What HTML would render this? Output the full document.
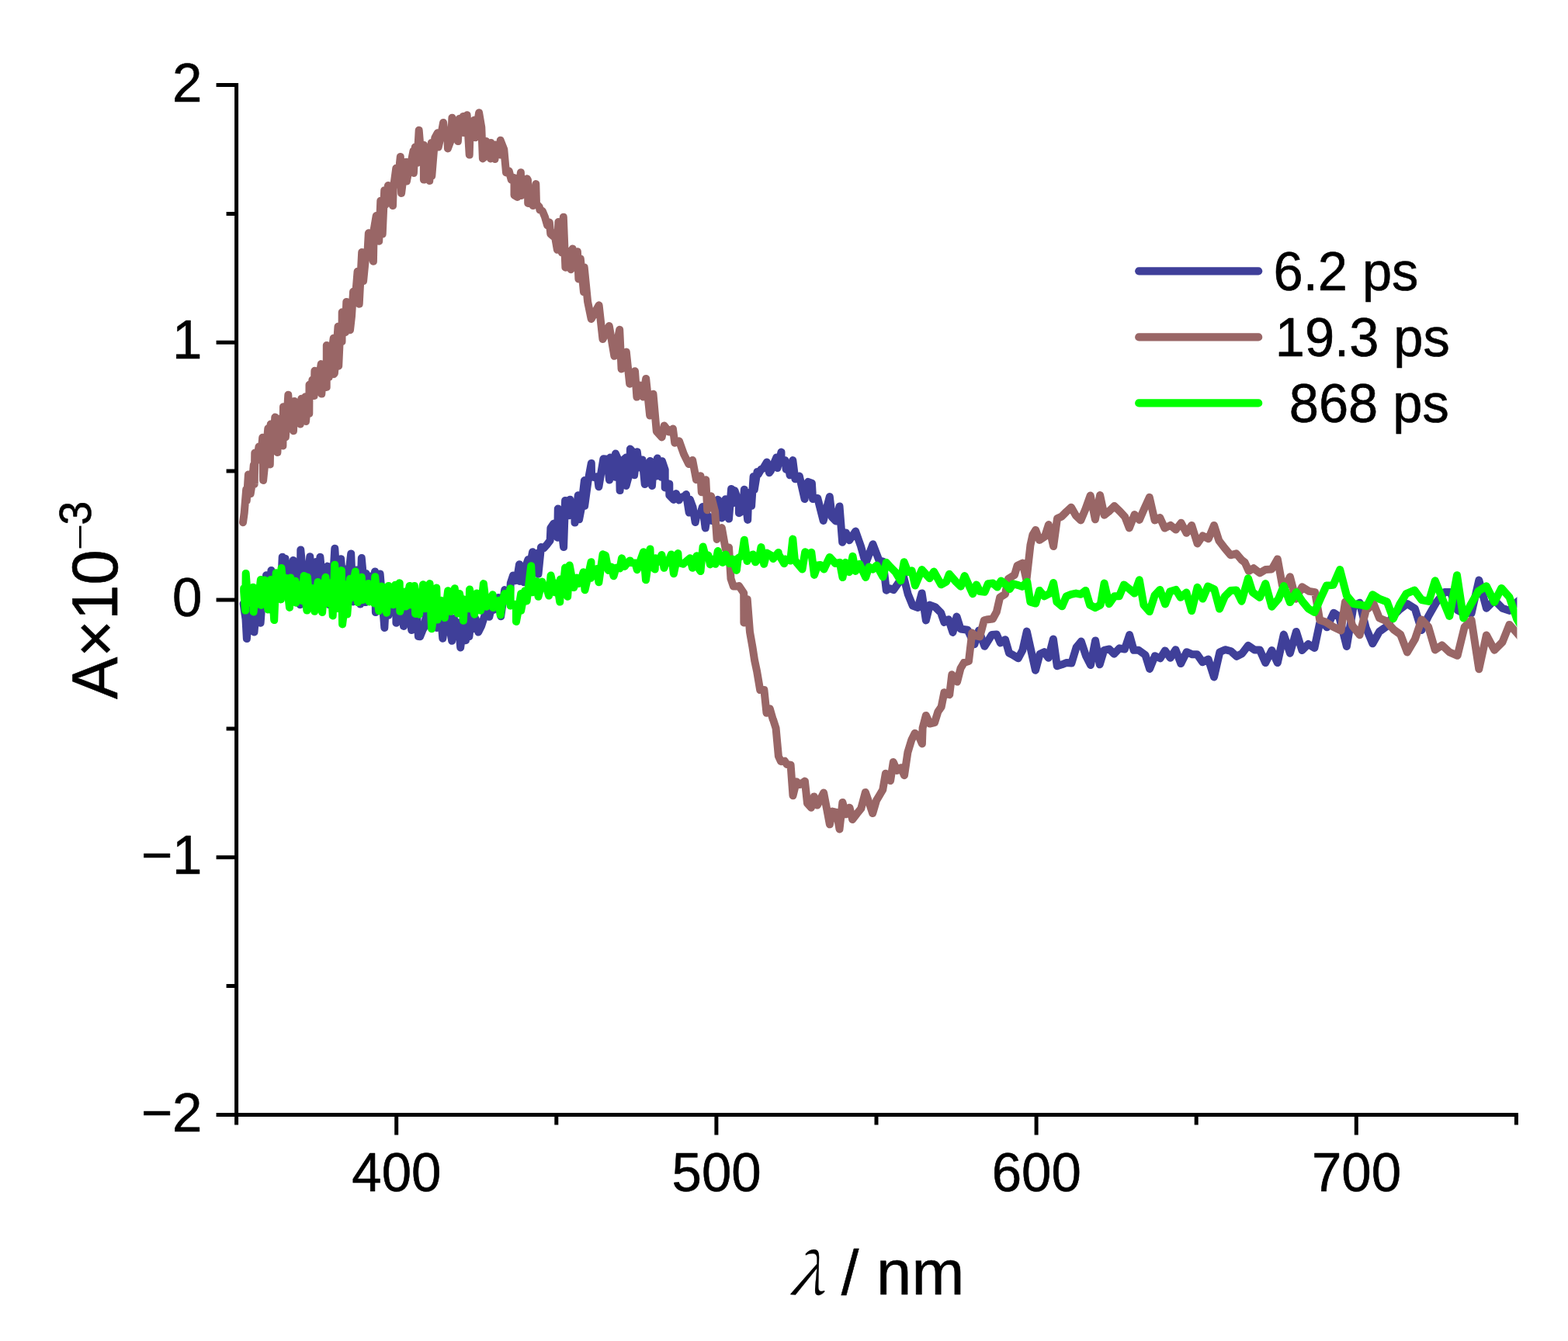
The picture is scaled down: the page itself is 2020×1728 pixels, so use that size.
<!DOCTYPE html>
<html lang="en">
<head>
<meta charset="utf-8">
<title>Transient absorption spectra</title>
<style>
html,body{margin:0;padding:0;background:#fff;}
body{width:2020px;height:1728px;overflow:hidden;}
svg{display:block;}
text{font-family:"Liberation Sans",sans-serif;fill:#000;stroke:#000;stroke-width:0.6px;stroke-linejoin:round;}
.tick{font-size:69px;}
.lab{font-size:81.5px;}
.lam{font-family:"Noto Serif CJK SC","Liberation Serif",serif;font-style:italic;font-size:72px;stroke-width:0.3px;}
.sm{font-family:"Liberation Serif",serif;font-size:56px;stroke:none;}
.s3{font-size:55px;}
.leg{font-size:68.6px;}
.ax{stroke:#000;stroke-width:5;fill:none;stroke-linecap:butt;}
.cv{fill:none;stroke-width:10;stroke-linejoin:round;stroke-linecap:round;}
</style>
</head>
<body>
<svg width="2020" height="1728" viewBox="0 0 2020 1728" role="img" aria-label="Transient absorption spectra at 6.2 ps, 19.3 ps and 868 ps">
<rect width="2020" height="1728" fill="#fff"/>
<defs><clipPath id="plotclip"><rect x="304.6" y="109.5" width="1649.8" height="1327.0"/></clipPath></defs>
<g clip-path="url(#plotclip)">
<polyline class="cv" stroke="#3f3f99" points="313.6,777.8 316.5,797.7 317.9,823.1 319.8,799.0 321.7,789.1 323.7,801.7 325.6,783.7 327.5,814.4 329.6,789.2 331.6,778.2 333.6,779.3 335.6,802.7 338.1,768.8 340.5,776.4 343.0,741.3 344.8,764.4 346.6,761.8 348.4,785.4 349.4,735.1 351.4,760.7 353.5,746.7 355.5,765.5 357.6,752.4 359.6,751.1 361.7,765.3 363.7,717.8 365.6,752.9 367.5,719.7 369.5,748.1 371.5,758.4 373.6,740.5 375.6,748.9 377.7,722.1 379.9,755.5 382.2,734.7 384.4,746.5 386.6,779.2 387.3,708.5 389.7,734.0 392.1,743.2 394.5,751.6 396.9,740.7 399.3,717.2 401.9,760.0 404.5,745.7 407.1,724.0 409.7,757.3 412.4,717.8 414.8,744.8 417.2,758.7 419.5,747.7 421.9,729.6 423.8,779.2 426.3,750.7 428.8,748.5 431.3,706.7 433.9,747.4 436.6,746.8 439.2,720.3 441.4,750.3 443.6,733.3 446.5,753.5 449.3,739.2 452.2,713.5 454.7,775.4 457.0,747.8 459.3,734.5 461.7,757.1 464.0,778.5 465.8,719.1 468.3,746.8 470.8,776.1 471.4,738.9 474.2,767.0 477.0,742.6 480.0,756.9 483.0,736.4 483.9,789.1 486.8,777.8 489.6,739.5 492.5,773.2 495.3,808.9 497.9,761.8 500.5,792.8 503.0,773.6 505.4,776.3 507.9,773.4 510.4,757.4 510.4,802.7 512.8,790.6 515.2,776.1 517.6,781.0 520.0,807.0 522.5,789.7 525.1,783.8 527.6,786.7 530.2,812.0 532.7,777.0 535.1,761.1 538.9,820.0 541.2,820.2 545.7,808.9 546.2,809.1 549.3,791.9 552.5,773.7 555.0,793.0 557.5,791.5 560.1,792.1 562.6,809.1 565.2,796.3 567.7,790.5 570.3,822.7 573.7,800.6 577.1,781.1 579.6,810.5 582.2,825.8 584.9,796.9 587.7,811.1 590.5,802.3 593.2,834.4 596.6,806.7 600.0,825.2 602.5,783.6 604.4,820.2 606.8,798.4 609.3,810.3 612.7,797.3 616.2,814.6 620.2,806.6 624.0,794.5 627.7,781.1 630.3,794.8 633.2,782.4 636.1,785.9 639.1,779.7 642.0,770.0 645.2,794.2 647.7,777.2 650.2,760.1 653.3,769.0 656.4,774.4 657.8,751.4 661.0,741.5 663.6,748.3 666.3,744.3 669.0,727.3 669.3,749.0 672.0,739.8 674.7,750.3 676.3,732.2 680.3,721.1 683.2,726.0 686.1,711.2 688.8,729.1 691.6,713.1 693.5,739.8 697.0,705.0 700.5,706.3 705.0,701.3 708.7,696.4 709.4,680.3 713.3,674.7 718.2,692.7 718.8,655.6 722.5,675.7 726.1,705.1 728.1,645.0 733.1,664.3 734.3,643.8 737.3,657.4 740.3,651.2 740.5,673.6 744.8,638.2 746.1,669.3 748.5,656.9 752.9,619.1 753.2,651.9 757.5,620.0 761.8,597.0 762.1,613.6 765.8,615.3 769.6,614.1 771.4,627.2 774.4,609.1 777.4,591.2 782.2,591.8 785.0,618.5 786.2,589.4 792.4,614.8 793.0,584.6 797.9,595.5 798.6,632.1 801.7,593.7 806.6,589.4 806.6,625.9 811.6,607.4 811.9,578.6 817.1,584.4 817.1,612.3 820.8,582.2 823.3,602.4 827.6,592.4 830.7,624.1 832.0,598.0 835.7,621.0 837.5,594.1 840.0,625.9 841.9,596.8 845.6,613.6 846.8,590.6 851.8,614.8 853.0,594.3 856.7,605.4 856.7,628.4 862.3,623.4 862.3,638.3 867.9,643.9 871.0,636.1 874.7,644.5 876.5,641.3 881.5,639.6 884.0,637.0 887.7,660.6 888.9,643.8 892.6,653.7 895.7,673.0 897.6,663.6 901.9,663.1 905.0,653.1 908.7,680.4 911.2,663.6 914.9,670.5 919.9,671.7 924.8,643.8 928.5,647.5 929.8,667.4 934.1,664.3 934.7,643.2 939.0,668.6 942.1,629.9 944.6,648.2 946.5,632.1 952.0,648.8 952.0,661.2 957.0,658.1 958.8,630.8 963.2,669.9 964.4,635.1 968.1,651.9 970.6,614.1 971.8,630.9 975.5,607.9 976.8,611.1 980.5,604.8 983.0,603.7 987.9,595.5 991.0,609.2 992.9,606.7 1000.3,589.4 1001.5,603.0 1006.5,582.5 1006.5,595.0 1011.4,593.1 1012.7,604.9 1015.8,601.7 1017.6,612.3 1021.3,593.1 1024.4,617.3 1024.9,617.1 1029.8,613.4 1036.6,643.1 1040.9,620.8 1045.9,622.7 1047.1,643.1 1053.3,641.9 1060.7,671.0 1068.8,640.0 1071.9,666.6 1076.8,671.6 1081.5,652.4 1085.2,698.8 1089.8,686.4 1094.2,696.3 1102.2,684.6 1109.0,703.8 1115.2,726.0 1124.5,701.3 1132.5,722.3 1137.5,723.6 1141.8,760.7 1146.1,758.2 1151.1,760.1 1158.5,749.6 1163.5,740.9 1169.7,765.6 1175.8,780.5 1182.6,783.0 1187.6,764.4 1192.9,799.4 1197.8,779.6 1204.7,782.1 1212.1,789.5 1216.4,801.9 1222.0,798.2 1227.5,814.9 1232.5,794.5 1237.5,810.5 1246.7,811.8 1255.4,830.3 1261.0,812.4 1268.4,832.8 1277.7,818.0 1283.9,817.4 1288.8,828.5 1295.0,824.2 1300.0,841.5 1304.9,844.0 1311.7,848.3 1317.3,837.8 1322.8,813.6 1334.0,863.8 1339.6,842.7 1345.1,840.2 1350.7,847.7 1356.9,823.5 1361.8,858.2 1368.0,856.3 1374.2,853.9 1380.4,854.5 1386.6,834.1 1392.8,826.6 1399.0,845.2 1405.0,857.0 1411.1,825.4 1416.7,856.3 1422.3,837.8 1429.1,836.5 1435.3,842.7 1442.1,835.3 1448.9,836.5 1455.1,818.0 1460.6,837.8 1466.8,837.8 1475.5,844.0 1481.1,861.9 1487.9,845.2 1494.7,848.3 1500.9,838.4 1507.7,847.7 1514.5,837.2 1521.3,855.1 1528.7,840.2 1536.1,843.3 1542.3,843.3 1549.1,853.2 1556.6,849.5 1564.0,872.4 1571.4,840.2 1578.2,837.2 1585.6,839.0 1593.1,845.8 1600.0,842.3 1608.0,831.8 1616.1,837.4 1622.9,837.4 1630.3,854.1 1638.4,838.0 1645.8,854.1 1653.8,817.6 1661.9,841.7 1669.9,813.9 1677.4,838.0 1685.4,830.0 1693.4,834.9 1700.2,802.7 1704.0,801.5 1709.5,808.3 1718.2,789.7 1725.0,794.1 1734.9,833.0 1743.6,781.7 1751.6,776.7 1759.7,808.9 1768.3,829.3 1777.0,813.9 1785.6,807.7 1794.3,794.1 1803.0,785.4 1812.9,778.0 1822.8,784.2 1831.4,812.0 1840.1,794.1 1850.0,776.7 1860.9,763.1 1868.6,763.1 1877.6,786.2 1885.3,790.1 1895.6,790.1 1905.3,747.6 1914.9,783.7 1925.2,773.4 1935.5,783.7 1944.5,786.9 1954.2,775.9 1958.7,772.1"/>
<polyline class="cv" stroke="#996666" points="313.0,673.3 314.7,661.0 317.2,630.6 317.8,645.0 319.9,611.5 322.7,636.3 324.8,623.0 326.8,599.1 327.7,623.9 328.3,583.6 330.9,593.2 333.5,575.6 335.8,593.1 338.2,563.8 339.1,619.0 341.2,598.6 343.3,573.1 345.3,552.1 347.8,598.5 348.7,546.5 350.6,568.2 352.4,572.3 354.3,537.6 357.4,583.1 359.5,539.7 361.9,549.4 364.4,574.4 365.0,524.2 367.9,563.3 371.3,508.7 373.5,544.0 375.8,528.3 378.0,555.2 379.2,517.0 381.7,541.2 384.3,527.5 386.8,546.6 388.3,513.7 390.9,532.1 393.4,511.2 394.0,542.9 396.1,521.3 398.3,532.9 398.5,495.7 400.4,507.7 402.4,489.5 404.6,510.1 405.4,477.8 408.2,498.9 410.9,489.0 413.7,469.1 414.3,507.6 416.4,480.8 418.6,486.4 420.7,498.9 420.8,445.0 423.8,485.9 426.8,458.5 429.7,435.7 430.1,482.2 430.9,480.9 433.2,453.7 435.5,420.8 436.2,471.7 438.3,425.7 440.5,440.1 440.7,402.3 442.8,422.2 444.8,428.3 446.3,388.9 448.7,403.2 451.0,425.3 453.0,407.4 455.1,375.7 457.8,383.6 460.6,349.7 462.7,391.8 466.2,324.9 468.1,362.1 470.7,335.6 473.3,328.1 474.8,300.8 474.9,300.2 477.9,313.4 480.9,336.8 481.7,295.9 484.7,278.0 488.2,310.8 490.3,258.8 492.7,301.5 495.2,245.2 496.5,263.8 500.0,239.0 503.0,256.1 506.0,265.1 506.7,243.3 510.3,216.7 513.0,229.4 515.8,201.9 517.1,249.0 520.1,224.9 523.0,208.7 523.9,233.5 526.8,217.5 529.6,208.9 532.5,194.4 532.9,223.0 534.8,189.5 537.3,209.9 539.7,167.8 542.8,205.2 545.9,187.0 545.9,231.6 550.2,191.3 553.3,232.9 555.8,183.9 556.3,226.7 560.3,177.7 563.7,171.3 564.7,189.6 567.9,175.6 571.1,157.9 573.6,177.0 576.2,169.1 576.9,191.4 581.2,179.7 582.4,151.7 584.9,173.2 587.4,163.5 589.9,182.1 591.7,153.0 594.2,162.2 596.7,149.9 596.7,171.0 599.1,164.6 601.6,148.3 604.7,199.5 605.9,157.9 608.4,165.8 610.9,154.8 612.3,177.2 617.1,145.3 620.3,164.1 621.9,204.4 626.0,200.7 626.2,182.1 629.1,194.7 631.9,204.4 632.5,183.9 635.0,190.7 637.5,205.0 638.1,186.4 641.3,196.5 644.5,199.5 644.7,180.8 649.3,192.6 652.0,222.4 655.7,220.4 658.7,231.6 662.5,229.1 662.5,251.4 666.6,253.9 670.9,222.3 671.5,252.1 676.5,240.3 679.0,230.3 680.0,232.0 680.2,262.0 684.3,245.8 685.0,249.4 686.0,264.3 686.8,265.1 690.1,238.2 690.3,237.1 691.0,262.6 694.8,266.7 695.4,270.6 696.4,270.5 698.9,272.2 702.0,279.7 705.1,290.3 707.8,286.5 709.3,301.4 712.8,304.5 714.1,300.1 717.9,321.8 719.4,285.9 723.8,325.5 725.8,279.7 728.4,344.7 731.4,323.6 735.5,347.2 737.6,320.5 741.2,344.1 743.9,324.2 745.4,359.6 747.8,333.5 752.0,376.3 752.7,344.6 757.1,388.7 761.7,411.1 771.6,393.3 776.5,437.1 784.8,420.0 791.4,458.8 798.2,424.8 800.6,475.5 806.8,453.5 811.2,494.7 818.0,478.2 820.4,511.6 824.8,496.5 828.5,511.4 832.2,487.9 837.2,535.5 841.5,507.7 845.8,555.9 852.6,563.4 855.7,548.5 861.9,556.6 866.9,552.5 869.3,570.8 874.9,568.3 881.1,585.6 887.3,598.0 892.2,593.1 897.0,618.2 902.5,613.2 903.8,634.3 909.3,618.2 911.2,657.2 916.1,639.2 921.1,659.0 923.6,694.9 929.8,680.0 934.7,707.3 939.0,705.4 941.5,745.6 944.8,755.5 951.9,755.5 952.0,754.9 958.2,764.2 958.4,802.5 962.7,772.2 966.0,814.3 969.5,834.1 972.2,851.4 975.1,865.0 979.2,889.1 984.4,889.1 987.5,918.8 991.8,913.3 995.7,926.9 996.1,927.4 999.6,938.6 1001.3,957.1 1002.9,974.5 1006.0,981.3 1010.9,980.6 1013.7,985.0 1018.6,985.6 1021.5,1025.2 1026.0,1007.3 1030.7,1011.0 1036.9,1006.6 1040.0,1035.1 1045.0,1040.7 1048.7,1026.4 1053.0,1037.6 1061.1,1021.5 1065.4,1043.8 1068.9,1062.3 1072.2,1045.6 1077.8,1046.9 1081.5,1068.5 1085.4,1033.9 1089.5,1049.3 1094.5,1040.7 1098.2,1056.1 1103.8,1048.7 1109.3,1041.9 1114.9,1020.9 1119.9,1035.1 1124.2,1048.1 1129.1,1031.4 1133.5,1024.0 1137.2,1017.8 1140.9,996.7 1147.1,1006.0 1150.8,981.9 1155.7,993.0 1160.7,989.3 1165.0,999.2 1169.4,969.5 1174.3,953.4 1178.6,944.8 1184.2,949.7 1187.9,958.4 1188.6,938.0 1192.9,921.9 1197.8,932.5 1204.0,931.2 1208.4,917.0 1212.7,910.8 1216.4,892.2 1223.2,895.3 1226.3,869.3 1233.1,878.6 1237.5,861.3 1241.8,853.9 1248.0,852.0 1252.3,815.5 1256.6,819.2 1262.2,820.4 1267.8,799.4 1272.7,798.2 1278.9,797.5 1283.9,788.3 1288.2,769.7 1295.0,765.4 1298.9,746.0 1304.5,742.3 1306.9,741.1 1310.6,728.7 1317.5,725.6 1322.4,747.3 1327.4,702.7 1330.4,689.1 1334.2,682.9 1339.1,695.9 1345.9,691.6 1350.9,676.1 1357.1,704.0 1362.0,668.1 1367.6,665.6 1373.8,659.4 1380.0,653.8 1386.1,664.4 1392.3,670.5 1398.5,655.7 1404.7,638.4 1410.9,669.3 1417.1,638.1 1422.6,663.7 1428.2,659.4 1435.6,652.0 1443.1,659.4 1449.3,666.2 1454.8,680.4 1461.6,663.1 1467.8,669.9 1474.0,655.7 1480.8,640.8 1487.6,670.5 1494.3,667.0 1500.5,680.6 1507.9,676.9 1514.8,682.5 1521.6,673.8 1528.4,686.8 1535.2,676.9 1542.6,700.4 1549.4,690.5 1556.8,694.3 1564.0,676.9 1570.4,696.7 1577.9,706.6 1585.3,715.3 1592.7,713.4 1599.5,721.5 1603.7,724.8 1608.7,735.9 1614.9,732.2 1622.9,738.4 1630.3,734.0 1638.4,733.4 1645.8,720.4 1652.0,754.5 1655.7,755.7 1661.9,743.3 1669.3,771.8 1677.4,756.3 1686.6,761.9 1694.1,763.1 1700.2,799.0 1707.7,801.5 1717.6,807.7 1727.5,812.6 1733.0,775.5 1742.3,806.4 1751.6,818.2 1759.7,786.6 1769.6,778.0 1777.0,796.5 1785.6,800.2 1795.5,811.4 1804.2,817.6 1812.9,840.5 1822.8,823.8 1831.4,798.4 1840.1,807.7 1848.8,837.4 1857.7,831.3 1867.3,840.3 1877.6,844.8 1886.6,808.1 1895.6,799.1 1905.3,862.2 1914.9,818.4 1925.2,837.7 1935.5,827.4 1944.5,804.9 1954.2,815.8 1958.7,821.0"/>
<polyline class="cv" stroke="#00ff00" points="314.2,758.1 314.2,762.4 316.1,786.6 316.7,738.9 319.0,769.9 321.3,765.6 323.7,776.2 326.0,756.8 326.6,788.4 328.9,765.3 331.2,772.0 333.6,766.1 335.9,746.9 335.9,779.8 338.4,764.9 340.8,747.5 343.0,759.4 345.2,785.4 347.0,773.1 348.9,746.9 351.1,766.8 353.2,799.0 355.7,738.2 357.8,765.0 359.8,758.1 361.9,772.4 362.5,732.1 364.6,752.5 366.6,761.4 368.7,745.0 370.9,763.9 373.0,782.9 374.3,744.4 376.3,761.3 378.4,764.1 380.4,748.8 381.1,776.7 383.1,757.6 385.1,763.3 387.1,753.6 389.1,774.2 391.6,742.0 393.4,767.5 395.3,786.6 395.9,743.8 398.0,766.8 400.0,772.6 402.1,758.0 405.2,787.8 407.4,770.3 409.5,750.0 412.3,769.5 415.1,789.1 417.3,762.3 419.4,743.8 421.9,777.3 424.2,766.2 426.4,750.9 428.7,793.4 431.2,727.7 434.3,784.1 437.1,760.9 439.9,735.1 441.1,804.5 443.6,784.1 446.0,753.1 447.3,791.5 451.0,745.7 452.2,770.5 455.0,751.6 457.8,736.4 460.9,776.1 463.4,758.6 465.8,743.8 467.1,773.0 469.6,760.9 472.0,761.4 474.5,751.9 475.7,775.4 478.8,761.6 481.9,777.3 483.2,743.2 485.6,766.5 488.1,787.2 491.8,755.6 494.9,766.9 498.0,789.7 500.5,754.9 503.6,769.5 506.7,779.2 509.2,753.7 511.9,761.5 514.7,751.2 515.3,787.8 518.4,773.9 521.5,762.4 522.8,781.6 525.2,766.1 527.7,754.9 529.0,779.2 531.4,771.1 533.9,754.9 535.1,790.9 537.6,766.5 540.0,791.7 542.5,770.9 545.0,753.3 547.4,784.3 550.5,771.6 553.6,752.1 556.1,810.3 559.2,789.8 562.3,757.6 563.5,798.5 566.0,781.9 568.5,773.7 572.8,796.1 577.1,761.3 580.8,788.0 583.3,777.0 585.8,758.2 589.5,790.5 592.0,765.0 594.5,777.0 596.9,799.8 598.2,772.5 601.3,778.5 604.4,784.3 605.0,759.5 608.1,774.4 611.2,791.7 614.3,764.4 616.7,775.7 619.2,786.8 622.9,752.1 626.6,781.8 629.1,770.0 631.9,772.4 634.7,766.3 635.3,783.1 639.0,779.0 642.7,773.7 644.6,792.4 647.4,773.9 650.1,765.0 651.4,774.4 654.5,769.4 657.6,758.2 657.6,780.6 661.3,778.6 665.0,778.7 665.0,801.0 668.1,784.6 671.2,765.0 671.2,786.8 676.1,761.3 678.6,774.4 681.4,752.4 684.2,729.2 686.0,763.3 688.8,754.6 691.6,749.0 693.5,768.8 698.4,749.6 699.7,755.8 703.4,755.1 707.1,767.6 709.6,741.5 714.5,763.3 715.7,751.4 718.5,758.2 721.3,775.6 721.9,746.5 725.0,761.6 728.1,731.6 731.2,768.8 733.7,728.5 736.5,743.4 739.3,757.1 743.0,744.6 745.4,752.1 748.5,747.1 751.6,737.2 753.5,760.2 757.5,742.9 761.5,724.2 761.5,744.7 765.2,735.5 769.0,732.9 771.4,750.3 776.6,714.3 780.0,715.6 783.7,734.9 787.4,730.4 790.5,742.3 793.6,731.7 798.6,732.4 801.0,719.3 804.8,729.9 806.0,728.0 811.6,722.4 812.2,725.0 818.4,725.5 820.8,734.2 828.9,711.3 832.0,747.2 837.5,707.5 838.2,728.7 843.7,733.6 844.4,719.3 849.3,723.7 852.4,715.0 855.5,731.8 858.0,724.3 860.4,725.0 864.8,714.4 867.9,739.2 873.4,713.1 874.1,725.0 880.2,726.8 881.5,725.5 888.9,719.3 892.0,731.8 897.6,716.2 897.6,728.7 902.5,736.1 905.6,704.5 908.7,716.3 912.4,715.6 914.9,727.4 917.4,720.5 921.7,726.8 924.8,710.0 931.0,725.0 934.7,714.4 939.7,726.2 943.4,720.5 948.9,734.9 950.8,719.3 955.7,716.3 958.8,695.8 962.5,723.1 965.6,716.8 970.0,714.4 973.1,724.3 978.0,718.8 980.5,705.1 984.2,726.8 987.9,712.5 995.3,716.8 996.0,720.0 1002.8,711.9 1002.8,713.8 1010.2,726.2 1011.4,720.5 1018.2,722.5 1021.3,694.6 1023.8,721.2 1026.1,724.8 1033.5,733.5 1037.2,711.2 1040.9,714.3 1045.3,711.8 1049.0,740.9 1053.3,728.5 1057.0,727.9 1061.4,733.5 1068.8,718.0 1076.2,726.0 1081.8,724.8 1085.5,744.0 1089.2,724.8 1094.2,737.2 1098.5,716.8 1102.2,735.9 1107.2,726.7 1115.2,744.0 1119.5,730.4 1124.5,733.5 1129.4,728.5 1137.5,743.4 1141.8,724.8 1147.4,731.0 1153.6,737.2 1160.4,748.3 1164.7,724.2 1169.7,737.2 1174.6,735.3 1178.9,754.5 1187.6,734.1 1197.5,745.2 1203.1,736.6 1212.4,753.3 1219.2,749.6 1222.9,739.7 1231.5,749.6 1237.7,755.7 1242.7,742.1 1253.1,765.2 1258.0,753.5 1262.4,762.1 1268.6,762.7 1272.9,752.2 1279.1,751.6 1284.7,756.6 1289.6,748.5 1295.8,753.5 1300.7,759.0 1305.1,752.2 1311.9,754.1 1316.8,755.9 1323.3,749.8 1327.4,775.7 1334.2,777.6 1339.1,760.9 1345.3,768.3 1352.7,764.6 1357.1,751.0 1361.4,775.7 1368.2,781.3 1373.8,768.3 1380.0,765.8 1386.1,764.6 1392.3,765.8 1398.5,760.9 1404.1,779.5 1410.9,783.2 1417.7,779.5 1422.6,751.6 1428.8,778.2 1435.6,768.3 1441.8,768.3 1448.0,753.5 1454.2,758.4 1461.6,764.6 1467.8,747.3 1473.4,779.5 1480.8,788.1 1487.6,767.1 1494.3,759.9 1501.1,778.4 1507.3,762.3 1514.8,759.9 1520.9,769.8 1528.4,763.6 1535.2,787.1 1542.6,756.8 1549.4,771.6 1556.2,755.5 1564.3,759.2 1571.1,784.6 1577.9,768.5 1585.3,761.1 1592.7,760.5 1599.5,774.7 1608.0,745.2 1613.6,763.1 1622.9,769.9 1630.3,752.0 1638.4,781.7 1647.0,771.8 1653.8,755.1 1661.9,776.1 1669.9,763.1 1677.4,774.3 1685.4,784.2 1693.4,789.1 1701.5,770.5 1708.9,754.5 1717.6,753.8 1726.2,734.0 1734.9,767.5 1743.6,778.0 1751.6,779.2 1760.9,781.1 1768.3,766.2 1777.0,771.8 1786.9,775.5 1794.9,797.2 1803.0,779.2 1811.6,765.0 1822.2,760.6 1831.4,773.0 1840.7,774.9 1848.8,748.3 1858.3,772.1 1867.3,794.0 1877.0,741.2 1885.3,796.5 1894.3,779.8 1904.6,761.8 1914.9,755.3 1925.2,775.9 1934.2,757.9 1944.5,769.5 1954.2,797.8 1958.7,805.5"/>
</g>
<g class="ax">
<path d="M304.6 107.0 V1449.5"/>
<path d="M304.6 1436.5 H1955.9"/>
<path d="M304.6 109.5 H278.6 M304.6 275.4 H291.6 M304.6 441.2 H278.6 M304.6 607.1 H291.6 M304.6 773.0 H278.6 M304.6 938.9 H291.6 M304.6 1104.8 H278.6 M304.6 1270.6 H291.6 M304.6 1436.5 H278.6 M510.7 1436.5 V1462.5 M716.8 1436.5 V1449.5 M922.9 1436.5 V1462.5 M1129.0 1436.5 V1449.5 M1335.1 1436.5 V1462.5 M1541.2 1436.5 V1449.5 M1747.3 1436.5 V1462.5 M1953.4 1436.5 V1449.5"/>
</g>
<g class="tick" text-anchor="end">
<text transform="translate(260.5 130.7) scale(1 1.02)">2</text>
<text transform="translate(260.5 462.4) scale(1 1.02)">1</text>
<text transform="translate(260.5 794.2) scale(1 1.02)">0</text>
<text transform="translate(260.5 1126.0) scale(1 1.02)">−1</text>
<text transform="translate(260.5 1457.7) scale(1 1.02)">−2</text>
</g>
<g class="tick" text-anchor="middle">
<text transform="translate(510.9 1535) scale(1 1.02)">400</text>
<text transform="translate(923.1 1535) scale(1 1.02)">500</text>
<text transform="translate(1335.3 1535) scale(1 1.02)">600</text>
<text transform="translate(1747.5 1535) scale(1 1.02)">700</text>
</g>
<text class="lam" x="0" y="0" transform="translate(1016.6 1668.2) scale(1.05 1) skewX(-6)">λ</text>
<text class="lab" transform="translate(1083.8 1668) scale(1 1.0)">/ nm</text>
<text class="lab" transform="translate(150.7 901) rotate(-90) scale(1 1.035)">A×10</text>
<text class="sm" transform="translate(121.6 709.6) rotate(-90) scale(1.1 1)">−</text>
<text class="s3" transform="translate(117.3 676.6) rotate(-90) scale(1 1.035)">3</text>
<path d="M1467.2 349.3 H1621.2" stroke="#3f3f99" stroke-width="10.2" stroke-linecap="round" fill="none"/>
<text class="leg" transform="translate(1640.6 373.8) scale(1 1.02)">6.2 ps</text>
<path d="M1467.2 434.4 H1621.2" stroke="#996666" stroke-width="10.2" stroke-linecap="round" fill="none"/>
<text class="leg" transform="translate(1642.8 458.9) scale(1 1.02)">19.3 ps</text>
<path d="M1467.2 519.4 H1621.2" stroke="#00ff00" stroke-width="10.2" stroke-linecap="round" fill="none"/>
<text class="leg" transform="translate(1660.8 543.9) scale(1 1.02)">868 ps</text>
</svg>
</body>
</html>
